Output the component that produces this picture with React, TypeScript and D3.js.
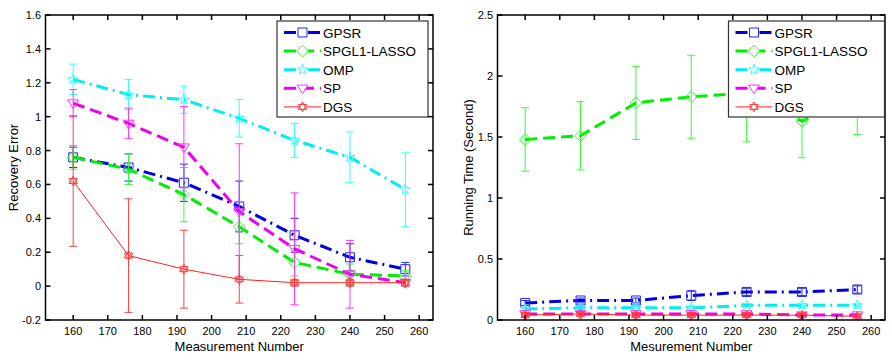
import React from "react";
import * as d3 from "d3";

const xsVals = [160, 176, 192, 208, 224, 240, 256];
const xTicks = [160, 170, 180, 190, 200, 210, 220, 230, 240, 250, 260];
const leftYTicks = [-0.2, 0, 0.2, 0.4, 0.6, 0.8, 1, 1.2, 1.4, 1.6];
const rightYTicks = [0, 0.5, 1, 1.5, 2, 2.5];
const seriesNames = ["GPSR", "SPGL1-LASSO", "OMP", "SP", "DGS"];

// Recovery error (left)
const errGPSR = [0.76, 0.7, 0.61, 0.47, 0.3, 0.17, 0.1];
const errGPSRsd = [0.06, 0.08, 0.11, 0.15, 0.1, 0.08, 0.04];
const errSPGL1 = [0.76, 0.69, 0.54, 0.35, 0.14, 0.07, 0.06];
const errSPGL1sd = [0.07, 0.09, 0.16, 0.1, 0.08, 0.06, 0.03];
const errOMP = [1.22, 1.13, 1.1, 0.99, 0.86, 0.76, 0.57];
const errOMPsd = [0.09, 0.09, 0.08, 0.11, 0.1, 0.15, 0.22];
const errSP = [1.08, 0.96, 0.82, 0.44, 0.22, 0.07, 0.02];
const errSPsd = [0.08, 0.09, 0.24, 0.4, 0.33, 0.2, 0.02];
const errDGS = [0.62, 0.18, 0.1, 0.04, 0.02, 0.02, 0.02];
const errDGSsd = [0.385, 0.335, 0.23, 0.14, 0.02, 0.02, 0.02];

// Running time (right)
const timeGPSR = [0.14, 0.16, 0.16, 0.2, 0.23, 0.23, 0.25];
const timeGPSRsd = [0.02, 0.02, 0.02, 0.04, 0.03, 0.03, 0.03];
const timeSPGL1 = [1.48, 1.51, 1.78, 1.83, 1.86, 1.63, 1.83];
const timeSPGL1sd = [0.26, 0.28, 0.3, 0.34, 0.4, 0.3, 0.31];
const timeOMP = [0.09, 0.1, 0.1, 0.1, 0.12, 0.12, 0.12];
const timeOMPsd = [0.01, 0.01, 0.01, 0.01, 0.01, 0.01, 0.01];
const timeSP = [0.05, 0.05, 0.05, 0.05, 0.05, 0.04, 0.04];
const timeSPsd = [0.01, 0.01, 0.01, 0.01, 0.01, 0.01, 0.01];
const timeDGS = [0.04, 0.05, 0.04, 0.04, 0.04, 0.04, 0.03];
const timeDGSsd = [0.01, 0.01, 0.01, 0.01, 0.01, 0.01, 0.01];

const styles = [
  { color: "#0000e0", mcolor: "#2222ff", dash: "12,5,2,5", width: 3, marker: "square" },
  { color: "#00ee00", mcolor: "#33ff33", dash: "12,6", width: 3, marker: "diamond" },
  { color: "#00eeee", mcolor: "#33ffff", dash: "12,5,2,5", width: 3, marker: "star" },
  { color: "#ee00ee", mcolor: "#ff33ff", dash: "12,6", width: 3, marker: "tri" },
  { color: "#ff2020", mcolor: "#ff4040", dash: "", width: 1, marker: "hex" },
];

const FONT = "'Liberation Sans', Arial, Helvetica, sans-serif";

function markerPath(kind: string, r: number): string {
  if (kind === "square") {
    return `M${-r},${-r}H${r}V${r}H${-r}Z`;
  }
  if (kind === "diamond") {
    const s = r * 1.3;
    return `M0,${-s}L${s},0L0,${s}L${-s},0Z`;
  }
  if (kind === "star") {
    const pts: string[] = [];
    for (let i = 0; i < 10; i++) {
      const rad = i % 2 === 0 ? r * 1.2 : r * 0.48;
      const a = -Math.PI / 2 + (i * Math.PI) / 5;
      pts.push(`${rad * Math.cos(a)},${rad * Math.sin(a)}`);
    }
    return "M" + pts.join("L") + "Z";
  }
  if (kind === "tri") {
    const s = r * 1.2;
    return `M${-s},${-s * 0.6}L${s},${-s * 0.6}L0,${s}Z`;
  }
  // hexagram
  const s = r * 1.1;
  const t1: string[] = [];
  const t2: string[] = [];
  for (let i = 0; i < 3; i++) {
    const a1 = -Math.PI / 2 + (i * 2 * Math.PI) / 3;
    const a2 = Math.PI / 2 + (i * 2 * Math.PI) / 3;
    t1.push(`${s * Math.cos(a1)},${s * Math.sin(a1)}`);
    t2.push(`${s * Math.cos(a2)},${s * Math.sin(a2)}`);
  }
  return "M" + t1.join("L") + "ZM" + t2.join("L") + "Z";
}

type PanelProps = {
  left: number;
  top: number;
  right: number;
  bottom: number;
  yDomain: [number, number];
  yTicks: number[];
  means: number[][];
  sds: number[][];
  xLabel: string;
  yLabel: string;
  yLabelX: number;
  yTickRight: number;
  legendX: number;
  legendW: number;
};

function Panel(p: PanelProps) {
  const x = d3.scaleLinear().domain([152, 264]).range([p.left, p.right]);
  const y = d3.scaleLinear().domain(p.yDomain).range([p.bottom, p.top]);
  const fmt = (v: number) => String(+v.toFixed(1));
  const tl = 5;
  const line = d3
    .line<number>()
    .x((_, i) => x(xsVals[i]))
    .y((d) => y(d));
  const cap = 4;
  const legTop = 21;
  const legRowH = 18.6;
  const legBottom = 117;
  const clipId = `clip${p.left}`;
  return (
    <g>
      <defs>
        <clipPath id={clipId}>
          <rect x={p.left} y={p.top} width={p.right - p.left} height={p.bottom - p.top} />
        </clipPath>
      </defs>
      <rect x={p.left} y={p.top} width={p.right - p.left} height={p.bottom - p.top} fill="#fff" />
      <g clipPath={`url(#${clipId})`}>
        {p.means.map((m, si) => {
          const st = styles[si];
          const sd = p.sds[si];
          return (
            <g key={si}>
              {m.map((v, i) => {
                const cx = x(xsVals[i]);
                const y1 = y(v + sd[i]);
                const y2 = y(v - sd[i]);
                return (
                  <g key={i} stroke={st.mcolor} strokeWidth={1} fill="none">
                    <line x1={cx} x2={cx} y1={y1} y2={y2} />
                    <line x1={cx - cap} x2={cx + cap} y1={y1} y2={y1} />
                    <line x1={cx - cap} x2={cx + cap} y1={y2} y2={y2} />
                  </g>
                );
              })}
              <path
                d={line(m) || ""}
                fill="none"
                stroke={st.color}
                strokeWidth={st.width}
                strokeDasharray={st.dash || undefined}
              />
              {m.map((v, i) => (
                <path
                  key={"m" + i}
                  d={markerPath(st.marker, 4.5)}
                  transform={`translate(${x(xsVals[i])},${y(v)})`}
                  fill="none"
                  stroke={st.mcolor}
                  strokeWidth={1}
                />
              ))}
            </g>
          );
        })}
      </g>
      {/* frame */}
      <rect
        x={p.left}
        y={p.top}
        width={p.right - p.left}
        height={p.bottom - p.top}
        fill="none"
        stroke="#000"
        strokeWidth={1.5}
      />
      {xTicks.map((t) => (
        <g key={"xt" + t}>
          <line x1={x(t)} x2={x(t)} y1={p.bottom} y2={p.bottom - tl} stroke="#000" strokeWidth={1.5} />
          <line x1={x(t)} x2={x(t)} y1={p.top} y2={p.top + tl} stroke="#000" strokeWidth={1.5} />
          <text
            x={x(t)}
            y={p.bottom + 15}
            textAnchor="middle"
            fontSize={11}
            fontFamily={FONT}
            fill="#000"
          >
            {t}
          </text>
        </g>
      ))}
      {p.yTicks.map((t) => (
        <g key={"yt" + t}>
          <line x1={p.left} x2={p.left + tl} y1={y(t)} y2={y(t)} stroke="#000" strokeWidth={1.5} />
          <line x1={p.right} x2={p.right - tl} y1={y(t)} y2={y(t)} stroke="#000" strokeWidth={1.5} />
          <text
            x={p.yTickRight}
            y={y(t) + 4}
            textAnchor="end"
            fontSize={11}
            fontFamily={FONT}
            fill="#000"
          >
            {fmt(t)}
          </text>
        </g>
      ))}
      <text
        x={(p.left + p.right) / 2}
        y={351}
        textAnchor="middle"
        fontSize={13}
        fontFamily={FONT}
        fill="#000"
      >
        {p.xLabel}
      </text>
      <text
        transform={`translate(${p.yLabelX},${(p.top + p.bottom) / 2}) rotate(-90)`}
        textAnchor="middle"
        fontSize={13}
        fontFamily={FONT}
        fill="#000"
      >
        {p.yLabel}
      </text>
      {/* legend */}
      <g>
        <rect
          x={p.legendX}
          y={legTop}
          width={p.legendW}
          height={legBottom - legTop}
          fill="#fff"
          stroke="#333"
          strokeWidth={1.2}
        />
        {seriesNames.map((nm, i) => {
          const st = styles[i];
          const cy = legTop + 11.5 + i * legRowH;
          const lx1 = p.legendX + 7;
          const lx2 = p.legendX + 44;
          return (
            <g key={nm}>
              <line
                x1={lx1}
                x2={lx2}
                y1={cy}
                y2={cy}
                stroke={st.color}
                strokeWidth={st.width}
                strokeDasharray={st.dash || undefined}
              />
              <path
                d={markerPath(st.marker, 4.5)}
                transform={`translate(${(lx1 + lx2) / 2},${cy})`}
                fill="#fff"
                stroke={st.mcolor}
                strokeWidth={1}
              />
              <text
                x={p.legendX + 46}
                y={cy + 5}
                fontSize={13.5}
                fontFamily={FONT}
                fill="#000"
              >
                {nm}
              </text>
            </g>
          );
        })}
      </g>
    </g>
  );
}

export default function App() {
  return (
    <svg
      width={892}
      height={362}
      style={{ position: "absolute", left: 0, top: 0, background: "#fff" }}
    >
      <rect x={0} y={0} width={892} height={362} fill="#fff" />
      <Panel
        left={45.5}
        top={15}
        right={433}
        bottom={320}
        yDomain={[-0.2, 1.6]}
        yTicks={leftYTicks}
        means={[errGPSR, errSPGL1, errOMP, errSP, errDGS]}
        sds={[errGPSRsd, errSPGL1sd, errOMPsd, errSPsd, errDGSsd]}
        xLabel="Measurement Number"
        yLabel="Recovery Error"
        yLabelX={18}
        yTickRight={41}
        legendX={277}
        legendW={151}
      />
      <Panel
        left={497.5}
        top={15}
        right={885}
        bottom={320}
        yDomain={[0, 2.5]}
        yTicks={rightYTicks}
        means={[timeGPSR, timeSPGL1, timeOMP, timeSP, timeDGS]}
        sds={[timeGPSRsd, timeSPGL1sd, timeOMPsd, timeSPsd, timeDGSsd]}
        xLabel="Mesurement Number"
        yLabel="Running Time (Second)"
        yLabelX={473}
        yTickRight={493}
        legendX={728.5}
        legendW={156}
      />
    </svg>
  );
}
